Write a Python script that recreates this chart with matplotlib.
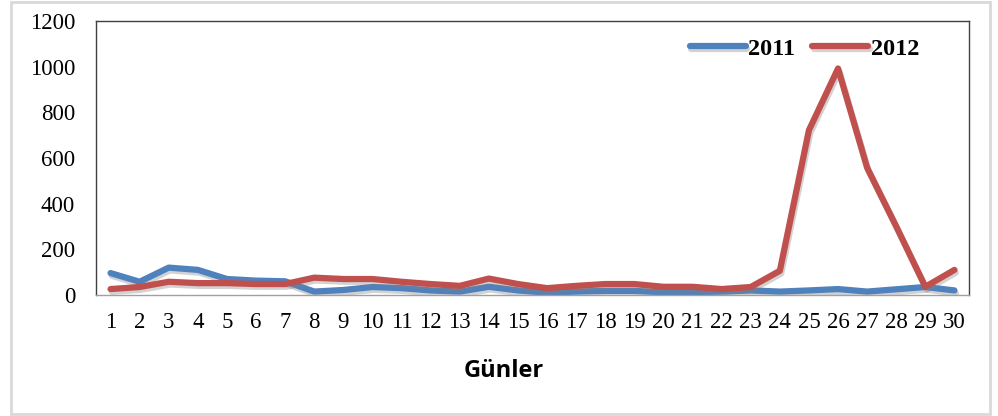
import matplotlib.pyplot as plt
import matplotlib.patheffects as pe
from matplotlib.patches import Rectangle

days = list(range(1, 31))
y2011 = [96, 58, 120, 110, 70, 63, 60, 15, 22, 35, 30, 20, 15, 36, 20, 10, 15, 18, 18, 12,
         12, 15, 20, 15, 20, 26, 15, 25, 35, 20]
y2012 = [26, 35, 58, 52, 52, 48, 48, 76, 70, 70, 58, 48, 40, 72, 48, 30, 40, 48, 48, 36,
         36, 26, 35, 106, 722, 992, 557, 300, 36, 110]
yticks = [0, 200, 400, 600, 800, 1000, 1200]

fig = plt.figure(figsize=(9.98, 4.16), dpi=100)
fig.patches.append(Rectangle((11 / 998, 2 / 416), 979 / 998, 412 / 416, transform=fig.transFigure,
                             fill=False, edgecolor='#d9d9d9', linewidth=2))
ax = fig.add_axes([96 / 998, 1 - 295 / 416, 873 / 998, 274 / 416])

shadow = [pe.SimpleLineShadow(offset=(1, -2), shadow_color='gray', alpha=0.35), pe.Normal()]
ax.plot(days, y2011, color='#4F81BD', lw=4.5, label='2011', path_effects=shadow, solid_capstyle='round')
ax.plot(days, y2012, color='#C0504D', lw=4.5, label='2012', path_effects=shadow, solid_capstyle='round')

ax.set_xlim(0.5, 30.5)
ax.set_ylim(0, 1200)
ax.set_xticks(days)
ax.set_yticks(yticks)
ax.tick_params(length=0, labelsize=16.5)
ax.tick_params(axis='x', pad=12)
ax.tick_params(axis='y', pad=15)
for lab in ax.get_xticklabels() + ax.get_yticklabels():
    lab.set_family('Liberation Serif')
for s in ax.spines.values():
    s.set_color('#404040')
    s.set_linewidth(1)
ax.spines['bottom'].set_color('#a0a0a0')

leg = ax.legend(loc='upper right', bbox_to_anchor=(0.968, 1.018), ncol=2, frameon=False,
                prop={'family': 'Liberation Serif', 'weight': 'bold', 'size': 17.5},
                handlelength=2.3, handletextpad=0.1, columnspacing=0.72)

fig.text(504 / 998, 1 - 371 / 416, 'Günler', ha='center', va='center',
         family='Open Sans', weight='bold', fontsize=17)

fig.savefig('out.png', dpi=100)
